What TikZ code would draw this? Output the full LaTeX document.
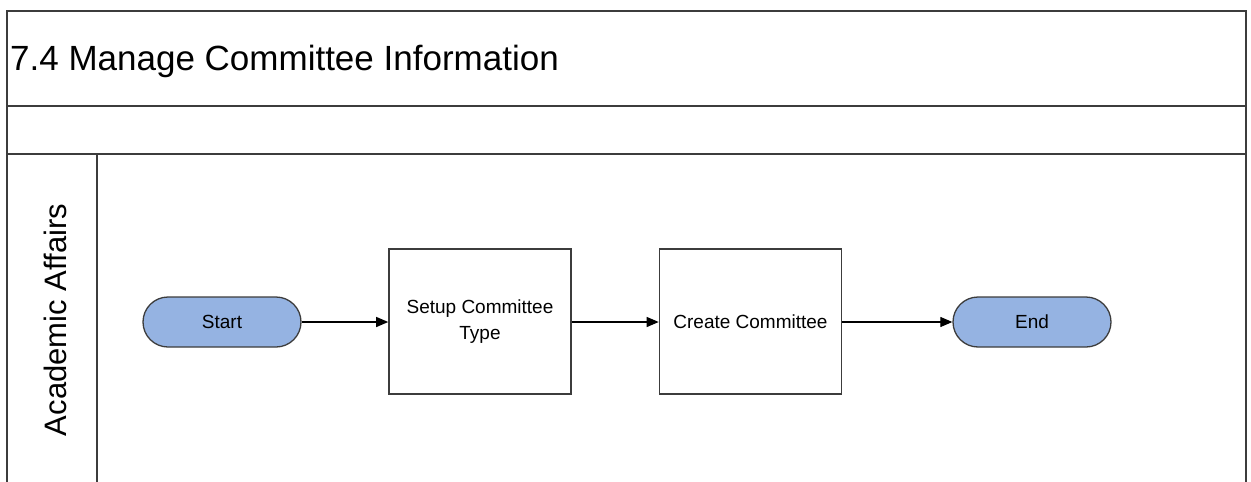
\documentclass[tikz,border=0pt]{standalone}
\usepackage{fontspec}
\setmainfont{Liberation Sans}
\usetikzlibrary{arrows.meta}
\definecolor{pillblue}{RGB}{149,179,226}
\definecolor{frameline}{RGB}{60,60,60}
\tikzset{
  frame/.style={draw=frameline, line width=2pt},
  pill/.style={draw=frameline, fill=pillblue, line width=1.3pt, rounded corners=25pt,
    minimum width=158pt, minimum height=50pt, inner sep=0pt,
    font=\fontsize{19}{23}\selectfont},
  taskbox/.style={draw=frameline, line width=1.6pt, minimum width=182pt, minimum height=145pt,
    inner sep=0pt, align=center, font=\fontsize{19}{26}\selectfont},
  flow/.style={draw=black, line width=1.2pt, -{Triangle[length=12pt,width=10pt]}}
}
\begin{document}
\begin{tikzpicture}[x=1pt,y=-1pt]
\useasboundingbox (0,0) rectangle (1251,482);
% frame
\draw[frame] (7,483) -- (7,11) -- (1246,11) -- (1246,483);
\draw[frame] (7,106) -- (1246,106);
\draw[frame] (7,154) -- (1246,154);
\draw[frame] (97,154) -- (97,483);
% title
\node[anchor=base west, inner sep=0pt, font=\fontsize{35}{40}\selectfont] (title) at (10,70) {7.4 Manage Committee Information};
% lane label
\node[rotate=90, inner sep=0pt, font=\fontsize{31}{36}\selectfont] (lane) at (55,320) {Academic Affairs};
% nodes
\node[pill] (start) at (222,322) {Start};
\node[taskbox] (setup) at (480,321.5) {Setup Committee\\Type};
\node[taskbox] (create) at (750.5,321.5) {Create Committee};
\node[pill] (end) at (1032,322) {End};
% connectors
\draw[flow] (start.east) -- (setup.west |- start.east);
\draw[flow] (setup.east |- start.east) -- (create.west |- start.east);
\draw[flow] (create.east |- start.east) -- (end.west);
\end{tikzpicture}
\end{document}
